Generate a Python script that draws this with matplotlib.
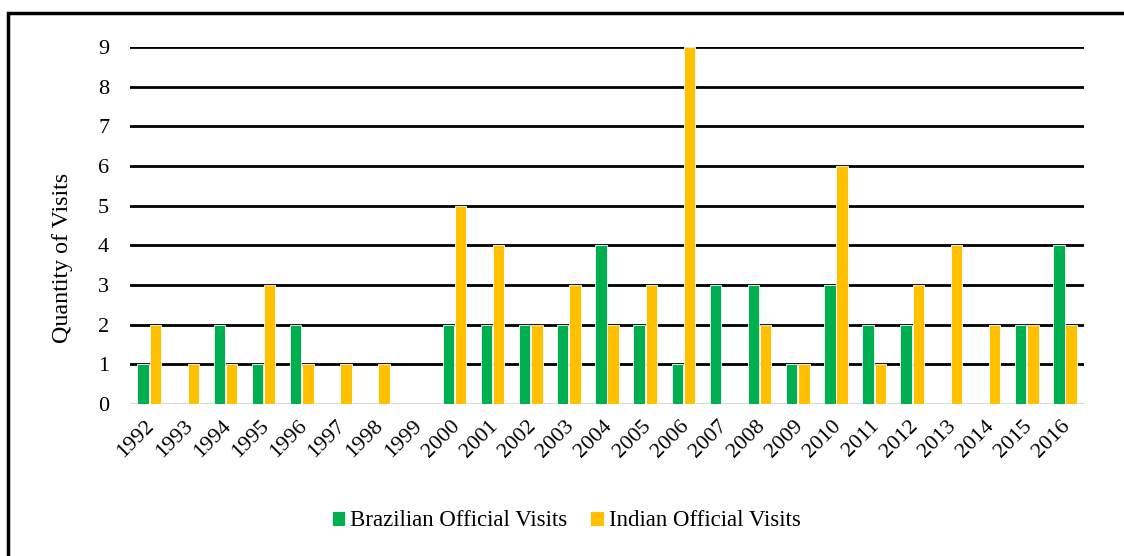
import matplotlib.pyplot as plt
import matplotlib.transforms as mtransforms
import numpy as np
from matplotlib.patches import Rectangle

# Data
years = [str(y) for y in range(1992, 2017)]
brazil_visits = [1, 0, 2, 1, 2, 0, 0, 0, 2, 2, 2, 2, 4, 2, 1, 3, 3, 1, 3, 2, 2, 0, 0, 2, 4]
india_visits = [2, 1, 1, 3, 1, 1, 1, 0, 5, 4, 2, 3, 2, 3, 9, 0, 2, 1, 6, 1, 3, 4, 2, 2, 2]
y_ticks = list(range(0, 10))

plt.rcParams['font.family'] = ['Liberation Serif', 'DejaVu Serif']

fig = plt.figure(figsize=(11.24, 5.56), dpi=100)
ax = fig.add_axes([0.1157, 0.2734, 0.8487, 0.6421])

x = np.arange(len(years))
w = 0.3
ax.bar(x - w/2 - 0.01, brazil_visits, w, color='#00B050', edgecolor='white',
       linewidth=0.6, label='Brazilian Official Visits', zorder=3)
ax.bar(x + w/2 + 0.01, india_visits, w, color='#FFC000', edgecolor='white',
       linewidth=0.6, label='Indian Official Visits', zorder=3)

ax.set_xlim(-0.5, len(years) - 0.5)
ax.set_ylim(0, 9)
ax.set_yticks(y_ticks)
ax.set_yticklabels([str(v) for v in y_ticks], fontsize=16)
ax.set_xticks(x)
ax.set_xticklabels(years, fontsize=16, rotation=45, ha='right',
                   rotation_mode='anchor')
ax.tick_params(axis='both', length=0)
ax.tick_params(axis='y', pad=15)
ax.tick_params(axis='x', pad=9)

# nudge year labels a bit left
shift = mtransforms.ScaledTranslation(-4/100, 0, fig.dpi_scale_trans)
for lbl in ax.get_xticklabels():
    lbl.set_transform(lbl.get_transform() + shift)

for v in y_ticks[1:]:
    ax.axhline(v, color='black', linewidth=2, zorder=1)
ax.axhline(0, color='#D9D9D9', linewidth=1.5, zorder=2)

for s in ax.spines.values():
    s.set_visible(False)

ax.set_ylabel('Quantity of Visits', fontsize=17.3)
ax.yaxis.set_label_coords(-0.060, 0.41)

fig.legend(loc='center', bbox_to_anchor=(0.5036, 0.063), ncol=2, frameon=False,
           fontsize=16.5, handlelength=0.6, handleheight=0.6, handletextpad=0.2,
           columnspacing=1.0)

# outer chart frame (only left and top visible)
fig.patches.append(Rectangle((8/1124, -0.1), 1.2, 1 - 13/556 + 0.1,
                             transform=fig.transFigure, fill=False,
                             edgecolor='black', linewidth=2.5))

fig.savefig('out.png', dpi=100)
